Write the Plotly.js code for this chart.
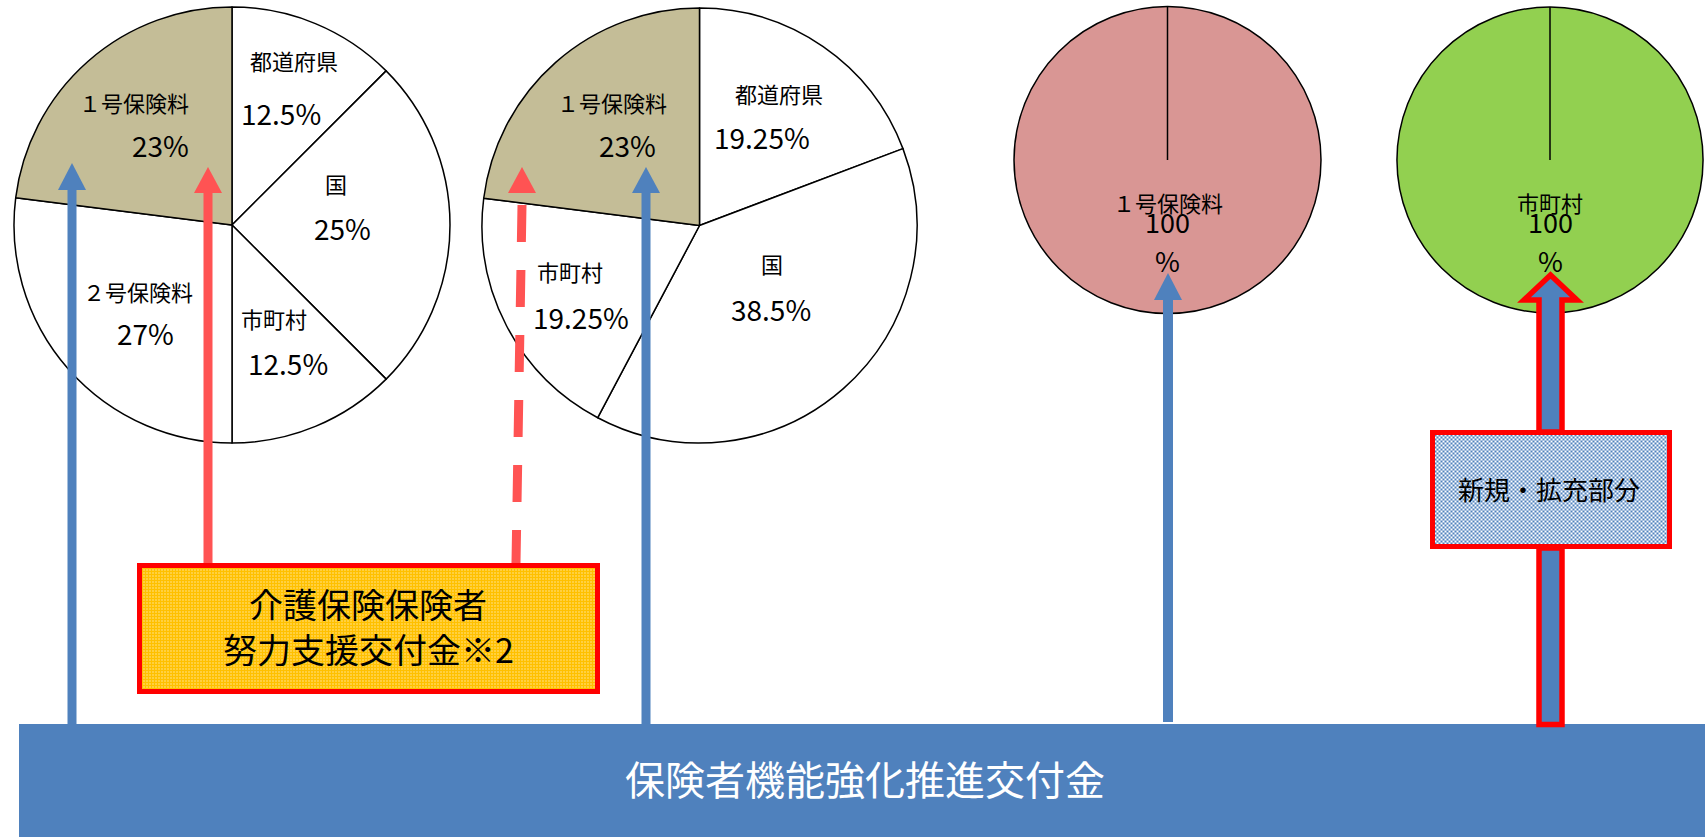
<!DOCTYPE html>
<html><head><meta charset="utf-8">
<script src="https://cdn.plot.ly/plotly-3.0.1.min.js"></script>
<style>html,body{margin:0;padding:0;background:#fff;overflow:hidden}</style>
</head><body><div id="chart" style="width:1705px;height:837px"></div>
<script>
// ---- data ----
const pie1Labels = ['都道府県', '国', '市町村', '２号保険料', '１号保険料'];
const pie1Values = [12.5, 25, 12.5, 27, 23];
const pie2Labels = ['都道府県', '国', '市町村', '１号保険料'];
const pie2Values = [19.25, 38.5, 19.25, 23];
const pie3Labels = ['１号保険料'];
const pie3Values = [100];
const pie4Labels = ['市町村'];
const pie4Values = [100];
const bandLabel = '保険者機能強化推進交付金';
const supportLabel = ['介護保険保険者', '努力支援交付金※2'];
const newLabel = '新規・拡充部分';

// ---- layout helpers ----
const W = 1705, H = 837;
const px = x => x / W;
const py = y => 1 - y / H;
const FONT = '"Noto Sans CJK JP", "Noto Sans", sans-serif';
const BLUE = '#4F81BD', RED = '#FF0000', LRED = '#FF5353';
const TAN = '#C4BD97', PINK = '#D99694', GREEN = '#92D050';

const geo = [
  {cx: 232, cy: 225, r: 218},
  {cx: 699.5, cy: 225.5, r: 217.5},
  {cx: 1167.5, cy: 160, r: 153.5},
  {cx: 1550, cy: 160, r: 153}
];
function dom(g) {
  return {x: [px(g.cx - g.r), px(g.cx + g.r)], y: [py(g.cy + g.r), py(g.cy - g.r)]};
}
function pie(labels, values, colors, g) {
  return {
    type: 'pie', labels: labels, values: values, sort: false, direction: 'clockwise', rotation: 0,
    textinfo: 'none', hoverinfo: 'none', showlegend: false,
    marker: {colors: colors, line: {color: '#000', width: 1.5}}, domain: dom(g)
  };
}
const traces = [
  pie(pie1Labels, pie1Values, pie1Labels.map(l => l === '１号保険料' ? TAN : '#FFFFFF'), geo[0]),
  pie(pie2Labels, pie2Values, pie2Labels.map(l => l === '１号保険料' ? TAN : '#FFFFFF'), geo[1]),
  pie(pie3Labels, pie3Values, [PINK], geo[2]),
  pie(pie4Labels, pie4Values, [GREEN], geo[3])
];

// label placement (pixels): [labelX, labelY, pctX, pctY]
const pos1 = [[294, 60, 281, 113], [336, 183, 342, 228], [274, 318, 288, 363], [138, 291, 145, 333], [134, 102, 160, 145]];
const pos2 = [[779, 93, 762, 137], [772, 263, 771, 309], [570, 271, 581, 317], [612, 102, 627, 145]];

const annotations = [];
function ann(text, x, y, size, color) {
  annotations.push({text: text, x: px(x), y: py(y), xref: 'paper', yref: 'paper', showarrow: false,
    xanchor: 'center', yanchor: 'middle', borderpad: 0, font: {family: FONT, size: size, color: color || '#000'}});
}
pie1Labels.forEach((l, i) => { ann(l, pos1[i][0], pos1[i][1], 22); ann(pie1Values[i] + '%', pos1[i][2], pos1[i][3], 28); });
pie2Labels.forEach((l, i) => { ann(l, pos2[i][0], pos2[i][1], 22); ann(pie2Values[i] + '%', pos2[i][2], pos2[i][3], 28); });
[[pie3Labels, pie3Values, geo[2]], [pie4Labels, pie4Values, geo[3]]].forEach(([l, v, g]) => {
  ann(l[0], g.cx, 202, 22);
  ann(String(v[0]), g.cx, 221, 27);
  ann('%', g.cx, 261, 27);
});
ann(bandLabel, 865, 778, 40, '#FFFFFF');
ann(supportLabel[0], 368, 603, 34);
ann(supportLabel[1], 368, 648, 34);
ann(newLabel, 1549, 488, 26);

// ---- shapes ----
const shapes = [];
function path(pts) { return 'M ' + pts.map(p => px(p[0]) + ' ' + py(p[1])).join(' L ') + ' Z'; }
function line(x0, y0, x1, y1, color, width, dash) {
  shapes.push({type: 'line', xref: 'paper', yref: 'paper', x0: px(x0), y0: py(y0), x1: px(x1), y1: py(y1),
    line: {color: color, width: width, dash: dash || 'solid'}, layer: 'above'});
}
function poly(pts, fill, lc, lw) {
  shapes.push({type: 'path', xref: 'paper', yref: 'paper', path: path(pts), fillcolor: fill,
    line: {color: lc || fill, width: lw || 0}, layer: 'above'});
}
function head(x, yBase, yTip, hw, color) { poly([[x - hw, yBase], [x + hw, yBase], [x, yTip]], color); }

// band
poly([[19, 724], [1705, 724], [1705, 837], [19, 837]], BLUE);
// radial lines of the 100% pies
line(geo[2].cx, geo[2].cy - geo[2].r, geo[2].cx, geo[2].cy, '#000', 1.5);
line(geo[3].cx, geo[3].cy - geo[3].r, geo[3].cx, geo[3].cy, '#000', 1.5);
// arrows
line(72, 724, 72, 189, BLUE, 9); head(72, 190, 163, 14, BLUE);
line(208, 563, 208, 192, LRED, 9); head(208, 193, 167, 14, LRED);
line(522, 205, 516, 563, LRED, 9, '37px,28px'); head(522, 193, 167, 14, LRED);
line(646, 724, 646, 192, BLUE, 9); head(646, 193, 167, 14, BLUE);
line(1168, 722, 1168, 299, BLUE, 10); head(1168, 300, 273, 14, BLUE);
// block arrow (split around the box)
poly([[1539, 432], [1539, 300], [1524, 300], [1550.5, 275], [1577, 300], [1562, 300], [1562, 432]], BLUE, RED, 5.5);
poly([[1539, 548], [1539, 724.5], [1562, 724.5], [1562, 548]], BLUE, RED, 5.5);
// box borders
shapes.push({type: 'rect', xref: 'paper', yref: 'paper', x0: px(139.5), x1: px(597.5), y0: py(565.5), y1: py(691.5),
  line: {color: RED, width: 5}, fillcolor: 'rgba(0,0,0,0)', layer: 'above'});
shapes.push({type: 'rect', xref: 'paper', yref: 'paper', x0: px(1432.5), x1: px(1669.5), y0: py(432.5), y1: py(546.5),
  line: {color: RED, width: 5}, fillcolor: 'rgba(0,0,0,0)', layer: 'above'});

// pattern fills of the boxes
function svgUri(w, h, pat) {
  const s = "<svg xmlns='http://www.w3.org/2000/svg' width='" + w + "' height='" + h + "'><defs>" + pat +
    "</defs><rect width='" + w + "' height='" + h + "' fill='url(#p)'/></svg>";
  return 'data:image/svg+xml;charset=utf-8,' + encodeURIComponent(s);
}
const dots = "<pattern id='p' width='3' height='3' patternUnits='userSpaceOnUse'><rect width='3' height='3' fill='#FFC000'/><rect x='1' y='1' width='1' height='1' fill='#FFFFFF'/></pattern>";
const checks = "<pattern id='p' width='4' height='4' patternUnits='userSpaceOnUse'><rect width='4' height='4' fill='#FFFFFF'/><rect width='2' height='2' fill='" + BLUE + "'/><rect x='2' y='2' width='2' height='2' fill='" + BLUE + "'/></pattern>";
const images = [
  {source: svgUri(458, 126, dots), xref: 'paper', yref: 'paper', x: px(139.5), y: py(565.5), sizex: 458 / W, sizey: 126 / H,
    xanchor: 'left', yanchor: 'top', sizing: 'stretch', layer: 'above'},
  {source: svgUri(237, 114, checks), xref: 'paper', yref: 'paper', x: px(1432.5), y: py(432.5), sizex: 237 / W, sizey: 114 / H,
    xanchor: 'left', yanchor: 'top', sizing: 'stretch', layer: 'above'}
];

Plotly.newPlot('chart', traces, {
  width: W, height: H, autosize: false, margin: {l: 0, r: 0, t: 0, b: 0},
  paper_bgcolor: '#FFFFFF', plot_bgcolor: '#FFFFFF', showlegend: false,
  font: {family: FONT}, shapes: shapes, annotations: annotations, images: images
}, {staticPlot: true, displayModeBar: false});
</script></body></html>
